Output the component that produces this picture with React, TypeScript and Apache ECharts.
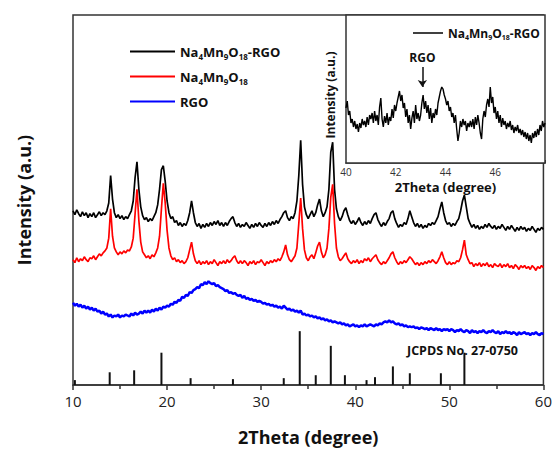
import React, { useEffect, useRef } from "react";
import * as echarts from "echarts";

// Main pattern: 2θ from 10 to 60 in steps of 0.2 (intensity, a.u.)
const MAIN_X0 = 10;
const MAIN_DX = 0.2;

const NMO_RGO = [
  178,174,179,175,172,177,173,176,171,175,
  172,176,171,174,177,173,176,174,178,186,
  214,190,176,171,174,170,173,169,172,170,
  174,178,188,212,228,200,182,173,169,171,
  167,170,168,172,176,184,200,220,224,208,
  188,176,170,172,166,168,163,166,162,165,
  163,168,176,188,176,166,162,165,160,164,
  161,165,162,166,163,167,164,168,163,166,
  162,166,163,167,170,172,166,162,165,161,
  164,162,166,163,160,164,161,165,162,166,
  163,161,165,162,166,163,167,164,168,165,
  169,172,176,178,171,168,172,170,176,188,
  214,250,205,182,174,170,174,178,172,176,
  184,190,178,172,176,182,200,238,248,200,
  180,172,168,172,178,181,174,168,165,168,
  164,167,171,166,163,167,164,168,165,170,
  174,176,169,165,162,166,163,167,170,176,
  178,170,165,161,164,162,166,164,170,178,
  172,166,162,165,161,164,160,163,161,165,
  163,166,164,168,172,180,187,176,168,164,
  166,162,165,163,167,170,178,188,194,182,
  170,165,161,164,160,163,159,162,160,164,
  161,165,162,160,163,159,162,160,164,161,
  158,162,159,163,160,157,161,158,162,159,
  161,157,160,158,162,159,156,160,158,161,
  159,
];

const NMO = [
  128,125,130,126,129,127,131,128,126,130,
  129,132,128,131,134,132,135,137,140,150,
  180,152,140,136,133,136,134,137,135,138,
  137,141,150,175,200,168,146,136,133,130,
  132,129,133,131,135,140,152,180,206,186,
  158,140,132,128,130,126,128,125,127,124,
  126,130,138,146,134,127,124,127,123,126,
  124,127,123,126,124,128,125,122,126,124,
  127,124,128,125,127,130,132,127,124,127,
  124,127,125,122,126,124,127,123,126,125,
  128,125,122,126,124,127,125,128,126,129,
  127,131,136,143,133,128,126,129,132,140,
  165,191,160,138,130,127,131,133,129,135,
  142,146,136,130,133,140,160,192,205,165,
  140,131,127,129,132,135,129,126,124,127,
  125,128,124,127,125,129,127,130,126,129,
  131,133,128,125,123,126,124,127,130,134,
  136,130,126,123,126,124,127,125,128,131,
  129,126,123,125,122,125,123,126,124,127,
  125,128,126,124,127,131,136,130,125,123,
  126,123,125,124,127,126,130,138,148,133,
  128,124,125,121,124,122,125,121,124,122,
  125,121,123,120,124,122,121,124,120,123,
  121,124,120,122,119,123,121,118,122,120,
  122,119,121,118,122,120,117,121,119,122,
  120,
];

const RGO = [
  84,81,83,80,82,79,81,78,80,77,
  79,76,78,75,76,73,75,72,73,70,
  72,69,71,70,72,69,71,70,72,71,
  70,73,71,74,72,73,75,73,76,74,
  76,74,77,75,78,76,79,77,80,79,
  81,80,83,82,85,84,87,86,90,89,
  92,91,95,94,97,98,100,99,103,102,
  105,103,106,104,103,104,101,102,100,99,
  98,96,97,94,95,93,94,92,91,92,
  89,91,88,89,87,88,86,87,85,86,
  85,83,84,82,83,81,82,80,81,79,
  80,78,81,79,77,78,76,77,75,76,
  74,76,72,73,71,72,70,71,69,70,
  68,69,67,68,66,67,65,66,64,65,
  64,63,64,62,63,61,62,60,61,62,
  60,61,59,61,60,62,60,61,62,61,
  60,62,61,63,62,64,65,64,66,64,
  65,63,62,63,61,62,60,61,59,60,
  59,60,58,59,57,59,58,57,58,56,
  58,57,56,58,56,57,55,57,56,57,
  55,57,56,54,56,55,57,55,54,56,
  55,53,56,54,55,53,55,54,56,54,
  53,55,54,56,54,53,55,52,54,53,
  55,53,54,52,54,53,51,54,52,53,
  54,52,53,51,53,52,54,52,51,53,
  52,
];

// JCPDS No. 27-0750 reference lines
const JCPDS_POS = [10.2, 13.9, 16.5, 19.4, 22.5, 27.0, 32.4, 34.1, 35.8, 37.4, 38.9, 41.2, 42.1, 44.0, 45.8, 49.1, 51.6];
const JCPDS_INT = [5, 13, 15, 33, 7, 6, 7, 55, 10, 40, 10, 5, 8, 19, 12, 12, 33];

// Inset: 2θ from 40 to 48 in steps of 0.05
const INSET_X0 = 40;
const INSET_DX = 0.05;
const INSET = [
  55,62,48,52,40,44,36,42,34,39,31,40,35,44,38,42,36,46,38,48,
  44,50,40,52,42,48,38,56,65,44,36,47,40,50,38,46,42,54,45,58,
  52,60,66,72,62,68,55,60,46,54,40,48,34,45,52,40,58,44,50,42,
  48,60,68,54,62,50,58,44,55,40,50,45,54,48,60,66,72,76,74,68,
  64,58,62,52,56,46,50,40,48,34,22,30,42,36,44,38,42,32,40,36,
  42,36,44,34,46,38,48,40,30,24,44,52,46,58,64,56,76,60,66,50,
  56,44,52,40,48,36,45,38,42,34,40,36,42,33,38,30,36,32,38,30,
  34,28,33,26,31,24,30,22,28,20,30,25,32,26,34,28,38,32,42,36,
  40,
];
const RGO_MARK_X = 43.07;

const MAIN_TICKS = [10, 20, 30, 40, 50, 60];

const NAMES = ["Na4Mn9O18-RGO", "Na4Mn9O18", "RGO"];
const RICH_LABELS: Record<string, string> = {
  "Na4Mn9O18-RGO": "{n|Na}{s|4}{n|Mn}{s|9}{n|O}{s|18}{n|-RGO}",
  "Na4Mn9O18": "{n|Na}{s|4}{n|Mn}{s|9}{n|O}{s|18}",
  RGO: "{n|RGO}",
};

const FONT = "'Open Sans', 'DejaVu Sans', sans-serif";

function toPairs(arr: number[], x0: number, dx: number) {
  return arr.map((v, i) => [Math.round((x0 + i * dx) * 1000) / 1000, v]);
}

function richFor(size: number, sub: number) {
  return {
    n: { fontSize: size, fontWeight: "bold", fontFamily: FONT, color: "#111", lineHeight: size + 4 },
    s: { fontSize: sub, fontWeight: "bold", fontFamily: FONT, color: "#111", lineHeight: sub + 2, verticalAlign: "bottom" },
  };
}

export default function App() {
  const ref = useRef<HTMLDivElement>(null);

  useEffect(() => {
    if (!ref.current) return;
    const chart = echarts.init(ref.current, undefined, { renderer: "svg" });

    const option: any = {
      animation: false,
      backgroundColor: "#fff",
      grid: [
        { left: 73, right: 10, top: 15, bottom: 58, show: true, borderColor: "#333", borderWidth: 1.5, backgroundColor: "transparent" },
        { left: 346, right: 10, top: 15, bottom: 288, show: true, borderColor: "#333", borderWidth: 1.5, backgroundColor: "#fff", z: 5 },
      ],
      xAxis: [
        {
          gridIndex: 0,
          type: "value",
          min: MAIN_TICKS[0],
          max: MAIN_TICKS[MAIN_TICKS.length - 1],
          interval: 10,
          splitLine: { show: false },
          axisLine: { show: true, lineStyle: { color: "#333", width: 1.5 } },
          axisTick: { show: true, inside: false, length: 5, lineStyle: { color: "#333", width: 1.5 } },
          minorTick: { show: true, splitNumber: 2, length: 4, lineStyle: { color: "#333", width: 1.5 } },
          axisLabel: { fontSize: 15, color: "#222", fontFamily: FONT, margin: 8 },
          name: "2Theta (degree)",
          nameLocation: "middle",
          nameGap: 43,
          nameTextStyle: { fontSize: 18, fontWeight: "bold", color: "#111", fontFamily: FONT },
        },
        {
          gridIndex: 1,
          type: "value",
          min: 40,
          max: 48,
          interval: 2,
          splitLine: { show: false },
          axisLine: { show: true, lineStyle: { color: "#333", width: 1.5 } },
          axisTick: { show: true, inside: true, length: 3, lineStyle: { color: "#333" } },
          minorTick: { show: true, splitNumber: 2, length: 2, lineStyle: { color: "#333" } },
          axisLabel: { fontSize: 10, color: "#333", fontFamily: FONT, margin: 4, showMaxLabel: false },
          name: "2Theta (degree)",
          nameLocation: "middle",
          nameGap: 17,
          nameTextStyle: { fontSize: 13, fontWeight: "bold", color: "#111", fontFamily: FONT },
        },
      ],
      yAxis: [
        {
          gridIndex: 0,
          type: "value",
          min: 0,
          max: 378,
          splitLine: { show: false },
          axisLine: { show: false },
          axisTick: { show: false },
          axisLabel: { show: false },
          name: "Intensity (a.u.)",
          nameLocation: "middle",
          nameGap: 40,
          nameTextStyle: { fontSize: 18, fontWeight: "bold", color: "#111", fontFamily: FONT },
        },
        {
          gridIndex: 1,
          type: "value",
          min: 0,
          max: 148,
          splitLine: { show: false },
          axisLine: { show: false },
          axisTick: { show: false },
          axisLabel: { show: false },
          name: "Intensity (a.u.)",
          nameLocation: "middle",
          nameGap: 10,
          nameTextStyle: { fontSize: 12, fontWeight: "bold", color: "#111", fontFamily: FONT, padding: [0, 12, 0, 0] },
        },
      ],
      legend: [
        {
          data: NAMES,
          orient: "vertical",
          left: 125,
          top: 40,
          icon: "rect",
          itemWidth: 45,
          itemHeight: 2,
          itemGap: 10,
          selectedMode: false,
          formatter: (name: string) => RICH_LABELS[name],
          textStyle: { rich: richFor(13, 8) },
        },
        {
          data: [NAMES[0]],
          left: 408,
          top: 22,
          icon: "rect",
          itemWidth: 30,
          itemHeight: 1.5,
          selectedMode: false,
          formatter: (name: string) => RICH_LABELS[name],
          textStyle: { rich: richFor(12, 7) },
          z: 10,
        },
      ],
      graphic: [
        {
          type: "text",
          left: 407,
          top: 344,
          style: { text: "JCPDS No. 27-0750", font: `bold 12.5px ${FONT}`, fill: "#111" },
        },
      ],
      series: [
        {
          name: NAMES[0],
          type: "line",
          xAxisIndex: 0,
          yAxisIndex: 0,
          data: toPairs(NMO_RGO, MAIN_X0, MAIN_DX),
          showSymbol: false,
          symbol: "none",
          lineStyle: { color: "#000", width: 1.7 },
          itemStyle: { color: "#000" },
        },
        {
          name: NAMES[1],
          type: "line",
          xAxisIndex: 0,
          yAxisIndex: 0,
          data: toPairs(NMO, MAIN_X0, MAIN_DX),
          showSymbol: false,
          symbol: "none",
          lineStyle: { color: "#ff0000", width: 1.7 },
          itemStyle: { color: "#ff0000" },
        },
        {
          name: NAMES[2],
          type: "line",
          xAxisIndex: 0,
          yAxisIndex: 0,
          data: toPairs(RGO, MAIN_X0, MAIN_DX),
          showSymbol: false,
          symbol: "none",
          lineStyle: { color: "#0000ff", width: 2.5 },
          itemStyle: { color: "#0000ff" },
        },
        {
          name: "JCPDS No. 27-0750",
          type: "bar",
          xAxisIndex: 0,
          yAxisIndex: 0,
          data: JCPDS_POS.map((p, i) => [p, JCPDS_INT[i]]),
          barWidth: 2,
          itemStyle: { color: "#111" },
          silent: true,
        },
        {
          name: NAMES[0],
          type: "line",
          xAxisIndex: 1,
          yAxisIndex: 1,
          data: toPairs(INSET, INSET_X0, INSET_DX),
          showSymbol: false,
          symbol: "none",
          lineStyle: { color: "#000", width: 1.4 },
          itemStyle: { color: "#000" },
          z: 6,
          markLine: {
            silent: true,
            symbol: ["none", "arrow"],
            symbolSize: 7,
            lineStyle: { color: "#111", width: 1.5, type: "solid" },
            label: {
              show: true,
              position: "start",
              formatter: "RGO",
              fontSize: 12,
              fontWeight: "bold",
              color: "#111",
              fontFamily: FONT,
              distance: 4,
            },
            data: [[{ coord: [RGO_MARK_X, 96] }, { coord: [RGO_MARK_X, 76] }]],
          },
        },
      ],
    };

    chart.setOption(option);
    return () => chart.dispose();
  }, []);

  return (
    <div
      ref={ref}
      style={{ position: "fixed", left: 0, top: 0, width: 555, height: 451, background: "#fff" }}
    />
  );
}
